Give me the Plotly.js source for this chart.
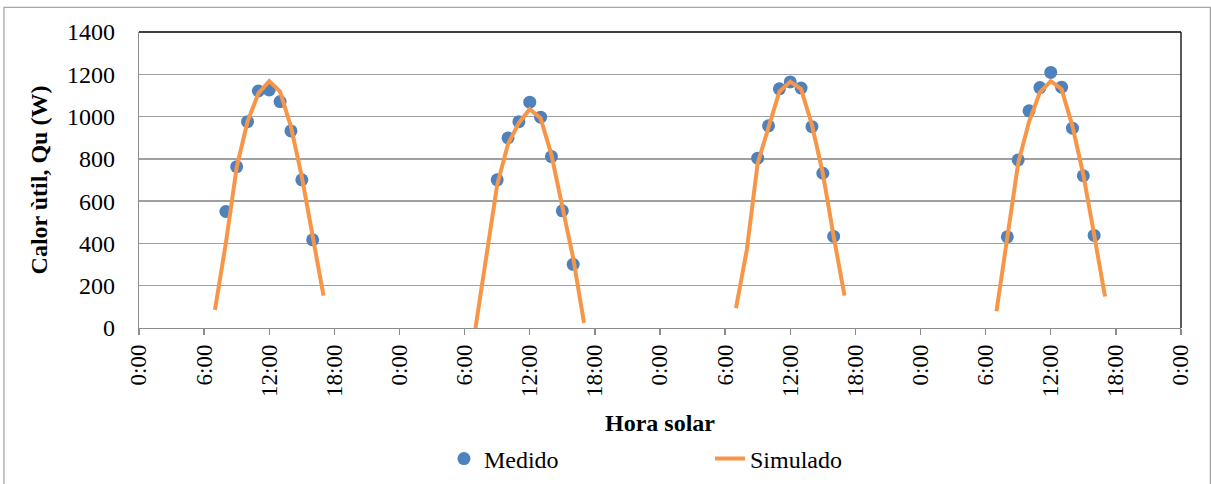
<!DOCTYPE html>
<html>
<head>
<meta charset="utf-8">
<script src="https://cdn.plot.ly/plotly-3.0.1.min.js"></script>
<style>
  html, body { margin: 0; padding: 0; background: #fff; }
  #chart { width: 1211px; height: 484px; }
  #chart .xtick text, #chart .ytick text, #chart .legendtext, #chart .legendtext tspan {
    font-family: 'Liberation Serif', 'Times New Roman', serif !important;
  }
</style>
</head>
<body>
<div id="chart"></div>
<script>
// X tick labels (every 6 h over 4 days)
const tickLabels = ["0:00","6:00","12:00","18:00","0:00","6:00","12:00","18:00","0:00","6:00","12:00","18:00","0:00","6:00","12:00","18:00","0:00"];
// Y tick labels
const yTickValues = [0, 200, 400, 600, 800, 1000, 1200, 1400];
const yTickLabels = ["0", "200", "400", "600", "800", "1000", "1200", "1400"];
// Series names
const seriesNames = ["Medido", "Simulado"];

// Measured useful heat (W) — hours of day, per day
const medidoHoursDay1 = [8, 9, 10, 11, 12, 13, 14, 15, 16];
const medidoDay1 = [551, 763, 976, 1121, 1126, 1071, 932, 701, 417];
const medidoHoursDay2 = [9, 10, 11, 12, 13, 14, 15, 16];
const medidoDay2 = [701, 899, 976, 1068, 997, 811, 554, 301];
const medidoHoursDay3 = [9, 10, 11, 12, 13, 14, 15, 16];
const medidoDay3 = [803, 956, 1131, 1164, 1135, 952, 732, 433];
const medidoHoursDay4 = [8, 9, 10, 11, 12, 13, 14, 15, 16];
const medidoDay4 = [431, 795, 1027, 1137, 1209, 1139, 945, 720, 438];

// Simulated useful heat (W), hours 7..17 each day
const simHours = [7, 8, 9, 10, 11, 12, 13, 14, 15, 16, 17];
const simDay1 = [86, 401, 760, 976, 1110, 1168, 1118, 952, 716, 433, 153];
const simDay2 = [0, 338, 677, 870, 970, 1035, 992, 819, 575, 331, 24];
const simDay3 = [94, 370, 780, 952, 1118, 1165, 1130, 960, 732, 433, 153];
const simDay4 = [79, 420, 780, 975, 1115, 1168, 1130, 955, 725, 440, 149];

const medHours = [medidoHoursDay1, medidoHoursDay2, medidoHoursDay3, medidoHoursDay4];
const medVals = [medidoDay1, medidoDay2, medidoDay3, medidoDay4];
const simVals = [simDay1, simDay2, simDay3, simDay4];

const mx = [], my = [], sx = [], sy = [];
for (let d = 0; d < 4; d++) {
  medHours[d].forEach((h, i) => { mx.push(d * 24 + h); my.push(medVals[d][i]); });
  simHours.forEach((h, i) => { sx.push(d * 24 + h); sy.push(simVals[d][i]); });
  sx.push(null); sy.push(null);
}

const FONT = 'Liberation Serif';

const traces = [
  {
    x: mx, y: my, type: 'scatter', mode: 'markers', name: seriesNames[0],
    marker: { color: '#4F81BD', size: 13 }
  },
  {
    x: sx, y: sy, type: 'scatter', mode: 'lines', name: seriesNames[1],
    line: { color: '#F79646', width: 4 }, connectgaps: false
  }
];

const tickvals = tickLabels.map((_, i) => i * 6);

const layout = {
  width: 1211, height: 484,
  margin: { l: 139, r: 30, t: 32, b: 156 },
  paper_bgcolor: '#fff', plot_bgcolor: '#fff',
  font: { family: FONT, size: 24, color: '#000' },
  showlegend: true,
  xaxis: {
    range: [0, 96], tickmode: 'array', tickvals: tickvals, ticktext: tickLabels,
    tickangle: -90, ticks: 'outside', ticklen: 6, tickcolor: '#8C8C8C', tickwidth: 1.3,
    showgrid: false, zeroline: false, showline: true, linecolor: '#8C8C8C', linewidth: 1.3,
    tickfont: { family: FONT, size: 23, color: '#000' },
    title: { text: '<b>Hora solar</b>', font: { family: FONT, size: 24, color: '#000' }, standoff: 26 },
    automargin: false, fixedrange: true
  },
  yaxis: {
    range: [0, 1400], tickmode: 'array', tickvals: yTickValues, ticktext: yTickLabels,
    showgrid: true, gridcolor: '#A0A0A0', gridwidth: 1.3,
    zeroline: false, showline: true, linecolor: '#8C8C8C', linewidth: 1.3,
    ticks: '', ticklabelstandoff: 18,
    tickfont: { family: FONT, size: 24, color: '#000' },
    title: { text: '<b>Calor ùtil, Qu (W)</b>', font: { family: FONT, size: 24, color: '#000' }, standoff: 12 },
    automargin: false, fixedrange: true
  },
  legend: {
    orientation: 'h', xref: 'container', yref: 'container',
    x: 0.3666, xanchor: 'left', y: 0.0517, yanchor: 'middle',
    entrywidth: 221, entrywidthmode: 'pixels',
    font: { family: FONT, size: 24, color: '#000' }, bgcolor: 'rgba(0,0,0,0)'
  },
  shapes: [
    { type: 'line', xref: 'paper', yref: 'paper', x0: 0, x1: 1, y0: 1, y1: 1, line: { color: '#000', width: 1.3 } },
    { type: 'line', xref: 'paper', yref: 'paper', x0: 1, x1: 1, y0: 0, y1: 1, line: { color: '#000', width: 1.3 } },
    { type: 'rect', xref: 'paper', yref: 'paper', x0: -0.1296, x1: 1.0282, y0: -0.54, y1: 1.0834,
      line: { color: '#A6A6A6', width: 1.3 }, fillcolor: 'rgba(0,0,0,0)', layer: 'below' }
  ]
};

Plotly.newPlot('chart', traces, layout, { displayModeBar: false, staticPlot: true });
</script>
</body>
</html>
